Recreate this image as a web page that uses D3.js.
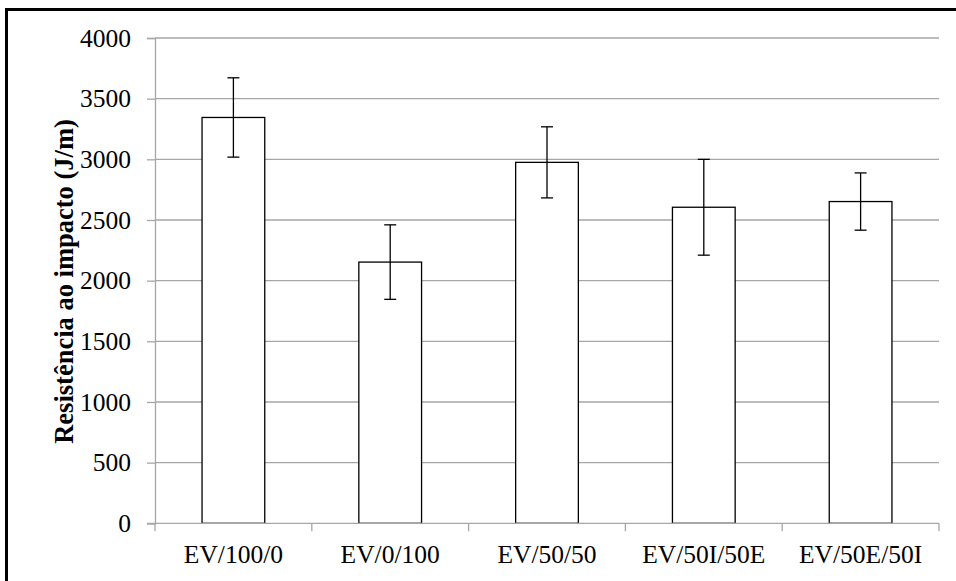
<!DOCTYPE html>
<html>
<head>
<meta charset="utf-8">
<script src="https://cdn.jsdelivr.net/npm/d3@7"></script>
<style>
  html, body { margin: 0; padding: 0; background: #fff; overflow: hidden; }
</style>
</head>
<body>
<svg id="chart" width="956" height="581"></svg>
<script>
const categories = ["EV/100/0", "EV/0/100", "EV/50/50", "EV/50I/50E", "EV/50E/50I"];
const means = [3345, 2153, 2975, 2605, 2652];
const errors = [327, 307, 293, 395, 236];
const yTicks = [0, 500, 1000, 1500, 2000, 2500, 3000, 3500, 4000];

const svg = d3.select("#chart");
const margin = {left: 155, right: 17, top: 38, bottom: 57.7};
const W = 956, H = 581;
const serif = "'Liberation Serif', 'Times New Roman', serif";

// frame round the picture
svg.append("rect")
    .attr("x", 6.5).attr("y", 9.5)
    .attr("width", 1000).attr("height", 1000)
    .attr("fill", "none")
    .attr("stroke", "#000")
    .attr("stroke-width", 3);

const x = d3.scaleBand()
    .domain(categories)
    .range([margin.left, W - margin.right])
    .paddingInner(0.6)
    .paddingOuter(0.3);
const step = x.step();

const y = d3.scaleLinear()
    .domain([0, 4000])
    .range([H - margin.bottom, margin.top]);

// gridlines
svg.append("g")
    .selectAll("line")
    .data(yTicks.slice(1))
    .enter().append("line")
    .attr("x1", margin.left).attr("x2", W - margin.right)
    .attr("y1", d => y(d)).attr("y2", d => y(d))
    .attr("stroke", "#a6a6a6")
    .attr("stroke-width", 1.3);

// y axis
const yAxis = d3.axisLeft(y).tickValues(yTicks).tickSize(8).tickPadding(16).tickFormat(d3.format("d"));
const gy = svg.append("g")
    .attr("transform", `translate(${margin.left},0)`)
    .call(yAxis);
gy.select(".domain").attr("stroke", "#a6a6a6").attr("stroke-width", 1.3);
gy.selectAll(".tick line").attr("stroke", "#a6a6a6").attr("stroke-width", 1.3);
gy.selectAll("text")
    .attr("font-family", serif)
    .attr("font-size", 25.5)
    .attr("fill", "#000");

// bars
svg.append("g")
    .selectAll("rect")
    .data(categories)
    .enter().append("rect")
    .attr("x", d => x(d))
    .attr("y", (d, i) => y(means[i]))
    .attr("width", x.bandwidth())
    .attr("height", (d, i) => y(0) - y(means[i]))
    .attr("fill", "#fff")
    .attr("stroke", "#000")
    .attr("stroke-width", 1.3);

// x axis
const xAxis = d3.axisBottom(x).tickSize(0).tickPadding(21.5);
const gx = svg.append("g")
    .attr("transform", `translate(0,${y(0)})`)
    .call(xAxis);
gx.select(".domain").remove();
gx.selectAll("text")
    .attr("font-family", serif)
    .attr("font-size", 25.5)
    .attr("fill", "#000");

svg.append("line")
    .attr("x1", margin.left - 8).attr("x2", W - margin.right)
    .attr("y1", y(0)).attr("y2", y(0))
    .attr("stroke", "#a6a6a6").attr("stroke-width", 1.3);

// category separators
svg.append("g")
    .selectAll("line")
    .data(d3.range(categories.length + 1))
    .enter().append("line")
    .attr("x1", i => margin.left + i * step).attr("x2", i => margin.left + i * step)
    .attr("y1", y(0)).attr("y2", y(0) + 8)
    .attr("stroke", "#a6a6a6").attr("stroke-width", 1.3);

// error bars
const eb = svg.append("g").attr("stroke", "#000").attr("stroke-width", 1.3);
categories.forEach((c, i) => {
    const cx = x(c) + x.bandwidth() / 2;
    const top = y(means[i] + errors[i]);
    const bot = y(means[i] - errors[i]);
    eb.append("line").attr("x1", cx).attr("x2", cx).attr("y1", top).attr("y2", bot);
    eb.append("line").attr("x1", cx - 6).attr("x2", cx + 6).attr("y1", top).attr("y2", top);
    eb.append("line").attr("x1", cx - 6).attr("x2", cx + 6).attr("y1", bot).attr("y2", bot);
});

// y title
svg.append("text")
    .attr("transform", "translate(73,281.5) rotate(-90)")
    .attr("text-anchor", "middle")
    .attr("font-family", serif)
    .attr("font-weight", "bold")
    .attr("font-size", 26.5)
    .text("Resistência ao impacto (J/m)");
</script>
</body>
</html>
